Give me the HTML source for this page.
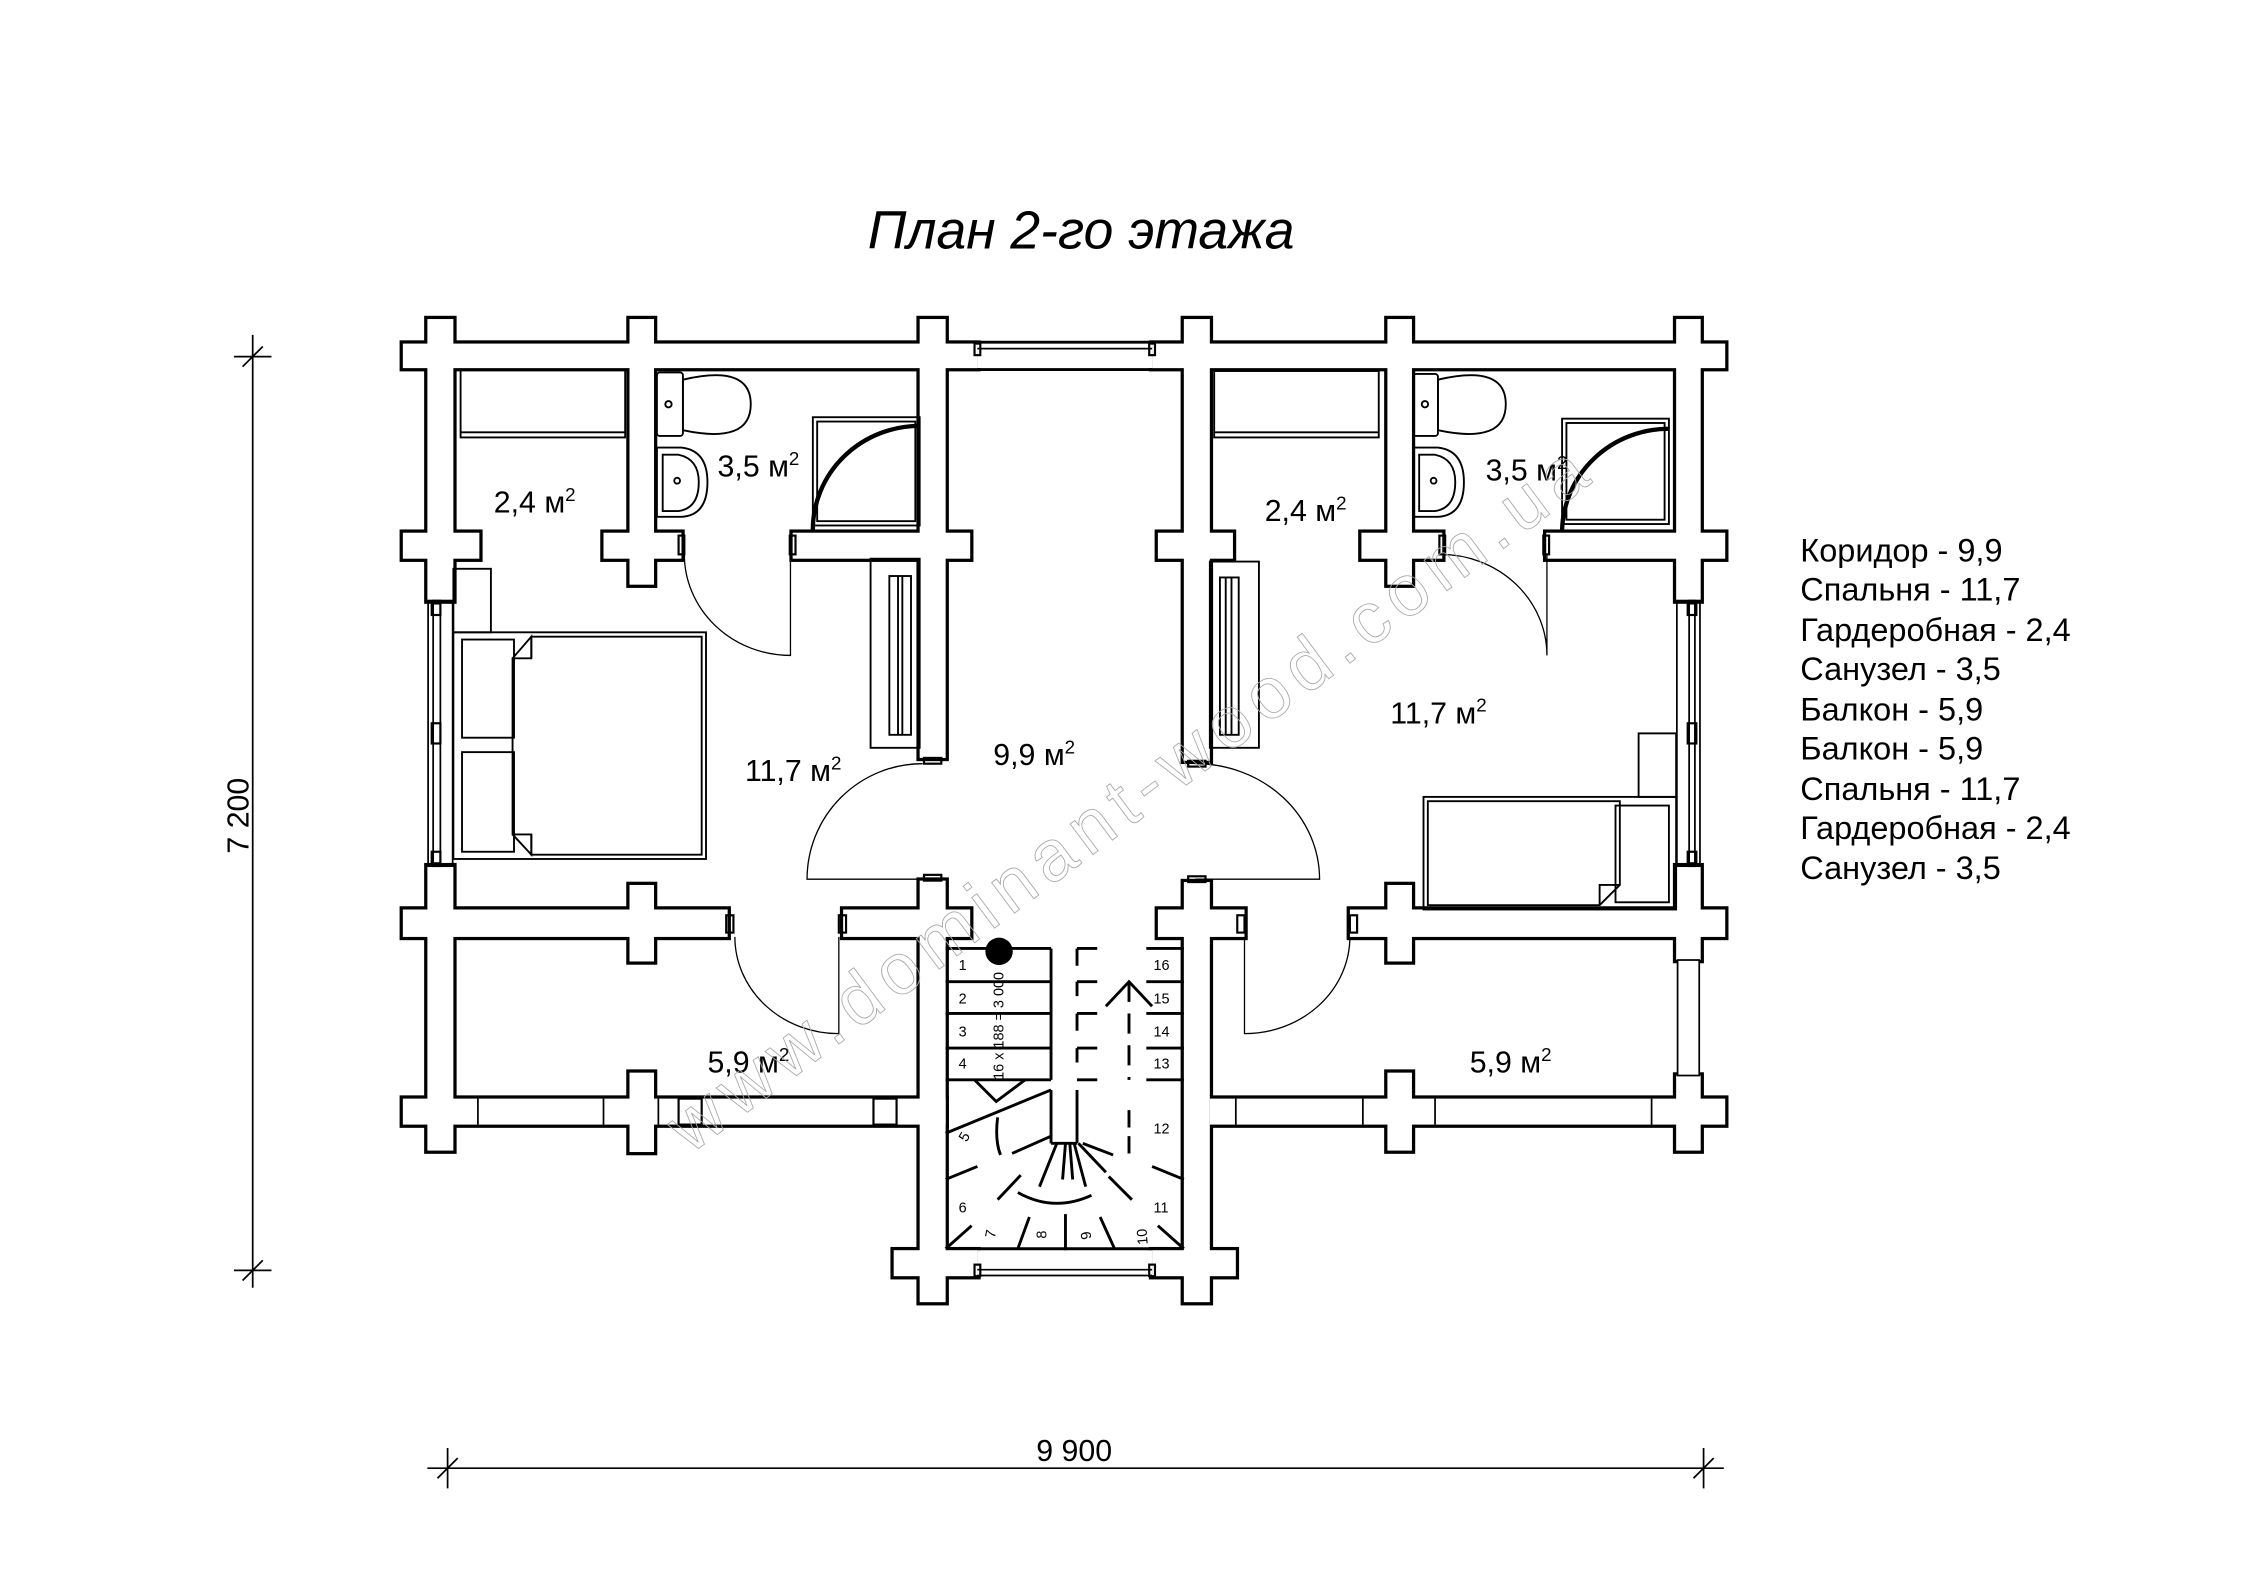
<!DOCTYPE html>
<html><head><meta charset="utf-8"><style>
html,body{margin:0;padding:0;background:#fff}
svg{display:block}
text{font-family:"Liberation Sans",Arial,sans-serif;fill:#000}
</style></head><body>
<svg width="2245" height="1587" viewBox="0 0 1555 1099.3" xmlns="http://www.w3.org/2000/svg">
<rect width="1555" height="1100" fill="#fff"/>
<text x="601" y="172" font-size="37" font-style="italic">План 2-го этажа</text>

<defs>
<g id="w">
<rect x="279" y="238" width="398" height="17"/>
<rect x="798" y="238" width="397" height="17"/>
<rect x="296" y="221" width="18" height="195"/>
<rect x="296" y="600" width="18" height="197"/>
<rect x="279" y="369" width="53" height="18"/>
<rect x="279" y="630" width="225" height="19"/>
<rect x="436" y="221" width="17" height="184"/>
<rect x="418" y="369" width="54" height="18"/>
<rect x="436" y="613" width="17" height="53"/>
<rect x="436" y="743" width="17" height="55"/>
<rect x="279" y="761" width="376" height="18"/>
<rect x="637" y="221" width="18" height="304"/>
<rect x="637" y="610" width="18" height="292"/>
<rect x="549" y="369" width="123" height="18"/>
<rect x="584" y="630" width="88" height="19"/>
<rect x="619" y="866" width="58" height="18"/>
<rect x="798" y="866" width="58" height="18"/>
<rect x="820" y="221" width="18" height="306"/>
<rect x="820" y="611" width="18" height="291"/>
<rect x="802" y="369" width="52" height="18"/>
<rect x="802" y="630" width="60" height="19"/>
<rect x="961" y="221" width="17" height="184"/>
<rect x="943" y="369" width="56" height="18"/>
<rect x="935" y="630" width="260" height="19"/>
<rect x="961" y="613" width="17" height="53"/>
<rect x="961" y="743" width="17" height="54"/>
<rect x="1071" y="369" width="124" height="18"/>
<rect x="1161" y="221" width="17" height="195"/>
<rect x="1161" y="600" width="17" height="65"/>
<rect x="1161" y="745" width="17" height="52"/>
<rect x="838" y="761" width="357" height="18"/>
</g>
</defs>
<use href="#w" fill="#000" stroke="#000" stroke-width="4.5"/>
<use href="#w" fill="#fff"/>

<g fill="none" stroke="#000" stroke-width="1.2">
<rect x="677" y="238" width="121" height="17" fill="#fff" stroke="none"/>
<line x1="677" y1="237" x2="798" y2="237" stroke-width="2"/>
<line x1="677" y1="241.5" x2="798" y2="241.5"/>
<line x1="677" y1="256" x2="798" y2="256" stroke-width="2"/>
<rect x="675" y="238" width="4" height="8" stroke-width="1.5"/>
<rect x="796" y="238" width="4" height="8" stroke-width="1.5"/>
<rect x="677" y="866" width="121" height="18" fill="#fff" stroke="none"/>
<line x1="677" y1="865" x2="798" y2="865" stroke-width="2"/>
<line x1="677" y1="879.5" x2="798" y2="879.5"/>
<line x1="677" y1="883.5" x2="798" y2="883.5"/>
<rect x="675" y="876" width="4" height="8" stroke-width="1.5"/>
<rect x="796" y="876" width="4" height="8" stroke-width="1.5"/>
<rect x="296.5" y="416" width="17" height="184"/>
<rect x="300" y="416" width="5" height="184"/>
<rect x="299" y="418" width="6" height="8" stroke-width="1.5"/>
<rect x="299" y="501" width="6" height="14" stroke-width="1.5"/>
<rect x="299" y="590" width="6" height="8" stroke-width="1.5"/>
<rect x="1161.5" y="416" width="16" height="184"/>
<rect x="1170" y="416" width="4" height="184"/>
<rect x="1169" y="418" width="6" height="8" stroke-width="1.5"/>
<rect x="1169" y="501" width="6" height="14" stroke-width="1.5"/>
<rect x="1169" y="590" width="6" height="8" stroke-width="1.5"/>
<rect x="1162" y="665" width="15" height="80" fill="#fff"/>
<line x1="331" y1="761" x2="331" y2="779"/><line x1="418" y1="761" x2="418" y2="779"/>
<line x1="456" y1="761" x2="456" y2="779"/>
<rect x="470" y="761" width="16" height="18" stroke-width="1.5"/>
<rect x="605" y="761" width="16" height="18" stroke-width="1.5"/>
<line x1="856" y1="761" x2="856" y2="779"/><line x1="944" y1="761" x2="944" y2="779"/>
<line x1="994" y1="761" x2="994" y2="779"/><line x1="1144" y1="761" x2="1144" y2="779"/>
<rect x="470" y="371" width="4" height="13" stroke-width="1.5"/>
<rect x="547" y="371" width="4" height="13" stroke-width="1.5"/>
<rect x="997" y="371" width="4" height="13" stroke-width="1.5"/>
<rect x="1069" y="371" width="4" height="13" stroke-width="1.5"/>
<rect x="503" y="634" width="5" height="12" stroke-width="1.5"/>
<rect x="581" y="634" width="5" height="12" stroke-width="1.5"/>
<rect x="857" y="634" width="5" height="12" stroke-width="1.5"/>
<rect x="935" y="634" width="5" height="12" stroke-width="1.5"/>
<rect x="640" y="525" width="12" height="4" stroke-width="1.5"/>
<rect x="640" y="606" width="12" height="4" stroke-width="1.5"/>
<rect x="823" y="527" width="12" height="4" stroke-width="1.5"/>
<rect x="823" y="607" width="12" height="4" stroke-width="1.5"/>
</g>

<g fill="none" stroke="#000" stroke-width="0.9">
<path d="M474,384 A73.5,70 0 0 0 547.5,454 L547.5,384"/>
<path d="M997.7,384 A73.8,70 0 0 1 1071.5,454 L1071.5,384"/>
<path d="M639,529 A80,80 0 0 0 559,609 L639,609"/>
<path d="M828,529 A86,80 0 0 1 914,609 L828,609"/>
<path d="M509,649 A72,67 0 0 0 581,716 L581,649"/>
<path d="M935,649 A73,67 0 0 1 862,716 L862,649"/>
</g>

<g fill="none" stroke="#000" stroke-width="1.3">
<rect x="319" y="256" width="114" height="47"/><line x1="319" y1="299.5" x2="433" y2="299.5"/>
<rect x="841" y="257" width="114" height="46"/><line x1="841" y1="299.5" x2="955" y2="299.5"/>
<rect x="455" y="258" width="18" height="44" rx="2"/>
<path d="M473,263 Q520,252 520,280 Q520,308 473,298 Z"/>
<circle cx="463" cy="280" r="2.2"/>
<path d="M455,310 L472,310 Q490,312 490,334 Q490,357 472,358 L455,358 Z"/>
<path d="M459,315 L470,315 Q484,318 484,334 Q484,352 470,354 L459,354 Z"/>
<circle cx="469" cy="333" r="2"/>
<rect x="979" y="259" width="17" height="43" rx="2"/>
<path d="M996,263 Q1043,252 1043,280 Q1043,308 996,298 Z"/>
<circle cx="987" cy="280" r="2.2"/>
<path d="M979,310 L996,310 Q1014,312 1014,334 Q1014,357 996,358 L979,358 Z"/>
<path d="M983,315 L994,315 Q1008,318 1008,334 Q1008,352 994,354 L983,354 Z"/>
<circle cx="993" cy="333" r="2"/>
<rect x="563" y="289" width="74" height="75"/><rect x="566" y="292" width="68" height="69"/>
<path d="M563,367 A74,72 0 0 1 637,295" stroke-width="3"/>
<rect x="1082" y="290" width="74" height="73"/><rect x="1085" y="293" width="68" height="67"/>
<path d="M1156,297 A74,72 0 0 0 1082,367" stroke-width="3"/>
<rect x="603" y="387" width="34" height="131"/><rect x="616" y="399" width="15" height="110"/>
<line x1="622" y1="399" x2="622" y2="509"/><line x1="625" y1="399" x2="625" y2="509"/>
<rect x="838" y="389" width="34" height="129"/><rect x="845" y="400" width="13" height="109"/>
<line x1="849" y1="400" x2="849" y2="509"/><line x1="853" y1="400" x2="853" y2="509"/>
<rect x="314" y="394" width="26" height="44"/>
<rect x="314" y="438" width="175" height="157"/>
<path d="M368,441 L486,441 L486,592 L368,592 L368,578 L355,578 L355,456 L368,456 Z"/>
<path d="M355,456 L368,441 L368,456"/><path d="M355,578 L368,592 L368,578"/>
<rect x="320" y="443" width="36" height="68"/><rect x="320" y="521" width="36" height="69"/>
<rect x="1135" y="508" width="26" height="44"/>
<rect x="986" y="552" width="175" height="78"/>
<path d="M989,555 L1122,555 L1122,613 L1108,627 L989,627 Z"/>
<path d="M1108,627 L1108,613 L1122,613"/>
<rect x="1119" y="558" width="37" height="67"/>
</g>

<g stroke="#000" fill="none" stroke-width="2">
<line x1="655" y1="657" x2="728" y2="657"/>
<line x1="655" y1="680" x2="728" y2="680"/>
<line x1="655" y1="702" x2="728" y2="702"/>
<line x1="655" y1="726" x2="728" y2="726"/>
<line x1="655" y1="748" x2="728" y2="748"/>
<line x1="728" y1="657" x2="728" y2="748"/>
<line x1="655" y1="785" x2="728" y2="755"/>
<path d="M675,748 L690,763 L710,748"/>
<line x1="728" y1="755" x2="728" y2="792"/><line x1="746" y1="755" x2="746" y2="792"/>
<line x1="728" y1="792" x2="746" y2="792"/>
<path d="M746,657 v12 M746,680 v10 M746,702 v12 M746,726 v10" />
<path d="M746,657 h14 M794,657 h26 M746,680 h14 M794,680 h26 M746,702 h14 M794,702 h26 M746,726 h14 M794,726 h26 M746,748 h14 M794,748 h26"/>
<line x1="782" y1="680" x2="782" y2="748" stroke-dasharray="14,8"/>
<path d="M766,697 L782,680 L798,697"/>
<line x1="782" y1="769" x2="782" y2="803" stroke-dasharray="12,6"/>
<line x1="655" y1="817" x2="677" y2="808"/>
<line x1="701" y1="799" x2="728" y2="787"/>
<path d="M691,774 Q689,790 693,800"/>
<line x1="691" y1="831" x2="707" y2="814"/>
<path d="M705,826 Q730,840 756,828"/>
<line x1="720" y1="822" x2="732" y2="792"/>
<line x1="736" y1="817" x2="738" y2="792"/>
<line x1="743" y1="817" x2="741" y2="792"/>
<line x1="752" y1="822" x2="744" y2="792"/>
<line x1="766" y1="812" x2="747" y2="792"/>
<line x1="771" y1="800" x2="750" y2="792"/>
<line x1="784" y1="831" x2="768" y2="815"/>
<line x1="798" y1="808" x2="820" y2="817"/>
<line x1="655" y1="865" x2="673" y2="849"/>
<line x1="705" y1="865" x2="713" y2="843"/>
<line x1="738" y1="866" x2="738" y2="841"/>
<line x1="772" y1="865" x2="762" y2="843"/>
<line x1="820" y1="865" x2="802" y2="849"/>
</g>
<ellipse cx="692" cy="659" rx="9.5" ry="9.5" fill="#000"/>
<g font-size="10">
<text x="664" y="672">1</text><text x="664" y="695">2</text><text x="664" y="718">3</text><text x="664" y="740">4</text>
<text x="799" y="672">16</text><text x="799" y="695">15</text><text x="799" y="718">14</text><text x="799" y="740">13</text>
<text x="799" y="785">12</text><text x="664" y="840">6</text><text x="799" y="840">11</text>
<text x="664" y="790" transform="rotate(-60 668 786)">5</text>
<text transform="translate(689,858) rotate(-80)">7</text>
<text transform="translate(725,858) rotate(-90)">8</text>
<text transform="translate(756,858) rotate(-100)">9</text>
<text transform="translate(795,862) rotate(-95)">10</text>
<text transform="translate(695,748) rotate(-90)" font-size="10">16 x 188 = 3 000</text>
</g>

<g font-size="21">
<text x="342" y="355">2,4 м<tspan dy="-8" font-size="13">2</tspan></text>
<text x="497" y="330">3,5 м<tspan dy="-8" font-size="13">2</tspan></text>
<text x="516" y="541">11,7 м<tspan dy="-8" font-size="13">2</tspan></text>
<text x="688" y="530">9,9 м<tspan dy="-8" font-size="13">2</tspan></text>
<text x="876" y="361">2,4 м<tspan dy="-8" font-size="13">2</tspan></text>
<text x="1029" y="333">3,5 м<tspan dy="-8" font-size="13">2</tspan></text>
<text x="963" y="501">11,7 м<tspan dy="-8" font-size="13">2</tspan></text>
<text x="490" y="743">5,9 м<tspan dy="-8" font-size="13">2</tspan></text>
<text x="1018" y="743">5,9 м<tspan dy="-8" font-size="13">2</tspan></text>
</g>

<g font-size="22.5">
<text x="1247" y="389">Коридор - 9,9</text>
<text x="1247" y="416">Спальня - 11,7</text>
<text x="1247" y="444">Гардеробная - 2,4</text>
<text x="1247" y="471">Санузел - 3,5</text>
<text x="1247" y="499">Балкон - 5,9</text>
<text x="1247" y="526">Балкон - 5,9</text>
<text x="1247" y="554">Спальня - 11,7</text>
<text x="1247" y="581">Гардеробная - 2,4</text>
<text x="1247" y="609">Санузел - 3,5</text>
</g>

<g stroke="#000" stroke-width="1.2" fill="none">
<line x1="175" y1="232" x2="175" y2="892"/>
<line x1="162" y1="247" x2="188" y2="247"/><line x1="168" y1="254" x2="182" y2="240"/>
<line x1="162" y1="880" x2="188" y2="880"/><line x1="168" y1="887" x2="182" y2="873"/>
<line x1="296" y1="1017" x2="1194" y2="1017"/>
<line x1="310" y1="1003" x2="310" y2="1031"/><line x1="303" y1="1024" x2="317" y2="1010"/>
<line x1="1180" y1="1003" x2="1180" y2="1031"/><line x1="1173" y1="1024" x2="1187" y2="1010"/>
</g>
<text font-size="21" text-anchor="middle" transform="translate(172,565) rotate(-90)">7 200</text>
<text x="744" y="1012" font-size="21" text-anchor="middle">9 900</text>

<text font-size="50" style="fill:none;stroke:#a8a8a8;stroke-width:0.6" textLength="780" transform="translate(478,800) rotate(-36.7)">www.dominant-wood.com.ua</text>
</svg>
</body></html>
